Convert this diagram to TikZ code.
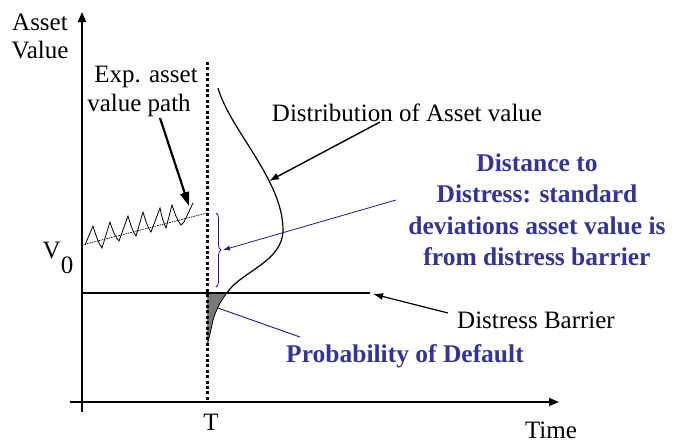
\documentclass[tikz,border=0pt]{standalone}
\usepackage{fontspec}
\setmainfont{Liberation Serif}
\usetikzlibrary{arrows.meta,decorations.pathreplacing}
\definecolor{textblue}{RGB}{51,51,153}
\definecolor{lineblue}{RGB}{25,25,150}
\begin{document}
\begin{tikzpicture}[x=1pt,y=-1pt,
  lbl/.style={inner sep=0pt,font=\fontsize{25}{31}\selectfont},
  bluelbl/.style={inner sep=0pt,text=textblue,font=\fontsize{25.5}{31.5}\selectfont\bfseries,align=center},
  axisline/.style={line width=1.8pt,-{Triangle[length=10pt,width=8pt]}},
  blackarrow/.style={line width=1.4pt,-{Latex[length=10pt,width=7pt]}},
  bluearrow/.style={draw=lineblue,line width=0.8pt,-{Latex[length=7pt,width=5pt]}}
]
\useasboundingbox (0,0) rectangle (674,447);
% axes
\coordinate (yb) at (82,412);
\coordinate (yt) at (82,12);
\coordinate (xl) at (70,402);
\coordinate (xr) at (559,402);
\draw[axisline] (yb) -- (yt);
\draw[axisline] (xl) -- (xr);
% maturity line
\coordinate (Ttop) at (207,62);
\coordinate (Tbot) at (207,402);
% shaded probability of default
\coordinate (sh1) at (207,293);
\coordinate (sh2) at (227,293);
\fill[gray!95!black] (sh1) -- (sh2) .. controls (221,300) and (216,310) .. (213,320) .. controls (211,330) and (209,338) .. (207,346) -- cycle;
\draw[line width=0.8pt] (sh2) .. controls (221,300) and (216,310) .. (213,320) .. controls (211,330) and (209,338) .. (207,346);
\draw[line width=3pt,dash pattern=on 3pt off 2.4pt] (Ttop) -- (Tbot);
% barrier
\coordinate (bl) at (82,293);
\coordinate (br) at (370,293);
\draw[line width=1.8pt] (bl) -- (br);
% expected path
\coordinate (e0) at (82,245);
\coordinate (e1) at (207,213);
\draw[line width=0.7pt,dash pattern=on 1.5pt off 1pt] (e0) -- (e1);
% simulated path
\draw[line width=0.8pt] (85,245) -- (93,226) .. controls (96,236) and (99,244) .. (102,248)
  -- (110,222) .. controls (113,232) and (116,238) .. (119,241)
  -- (128,216) .. controls (131,226) and (133,232) .. (136,236)
  -- (143,212) .. controls (146,222) and (148,228) .. (151,232)
  -- (160,208) .. controls (162,218) and (164,224) .. (166,228)
  -- (172,205) .. controls (175,214) and (177,220) .. (181,225)
  -- (184,222) -- (193,203);
% distribution curve
\coordinate (d0) at (218,88);
\coordinate (d1) at (283,230);
\draw[line width=1.2pt] (d0) .. controls (230,130) and (283,180) .. (d1) .. controls (283,262) and (240,272) .. (sh2);
% brace
\coordinate (b1) at (216,213);
\coordinate (b2) at (216,287);
\draw[draw=lineblue,line width=0.8pt,decorate,decoration={brace,amplitude=5pt}] (b1) -- (b2);
\coordinate (btip) at (223,250);
% texts
\node[lbl] (asset) at (40,22) {Asset};
\node[lbl] (value) at (40,50) {Value};
\node[lbl] (exp1) at (146,77) {Exp. asset};
\node[lbl] (exp2) at (139,105) {value path};
\node[lbl] (dist) at (407,113) {Distribution of Asset value};
\node[bluelbl] (dd) at (537,210) {Distance to\\Distress: standard\\deviations asset value is\\from distress barrier};
\node[lbl] (barrier) at (536,320) {Distress Barrier};
\node[bluelbl] (pd) at (405,356) {Probability of Default};
\node[lbl] (v0) at (58,258) {V\raisebox{-15pt}{0}};
\node[lbl] (T) at (211,422) {T};
\node[lbl] (time) at (551,430) {Time};
% connectors
\coordinate (a1s) at (160,118);
\coordinate (a1e) at (189,206);
\draw[line width=2.2pt,-{Triangle[length=14pt,width=9pt]}] (a1s) -- (a1e);
\coordinate (a2s) at (380,122);
\coordinate (a2e) at (269,181);
\draw[blackarrow] (a2s) -- (a2e);
\coordinate (a3s) at (448,313);
\coordinate (a3e) at (373,294);
\draw[blackarrow,line width=1.2pt] (a3s) -- (a3e);
\coordinate (a4s) at (396,200);
\draw[bluearrow] (a4s) -- (btip);
\coordinate (a5s) at (300,337);
\coordinate (a5e) at (218,308);
\draw[draw=lineblue,line width=0.9pt] (a5s) -- (a5e);
\end{tikzpicture}
\end{document}
